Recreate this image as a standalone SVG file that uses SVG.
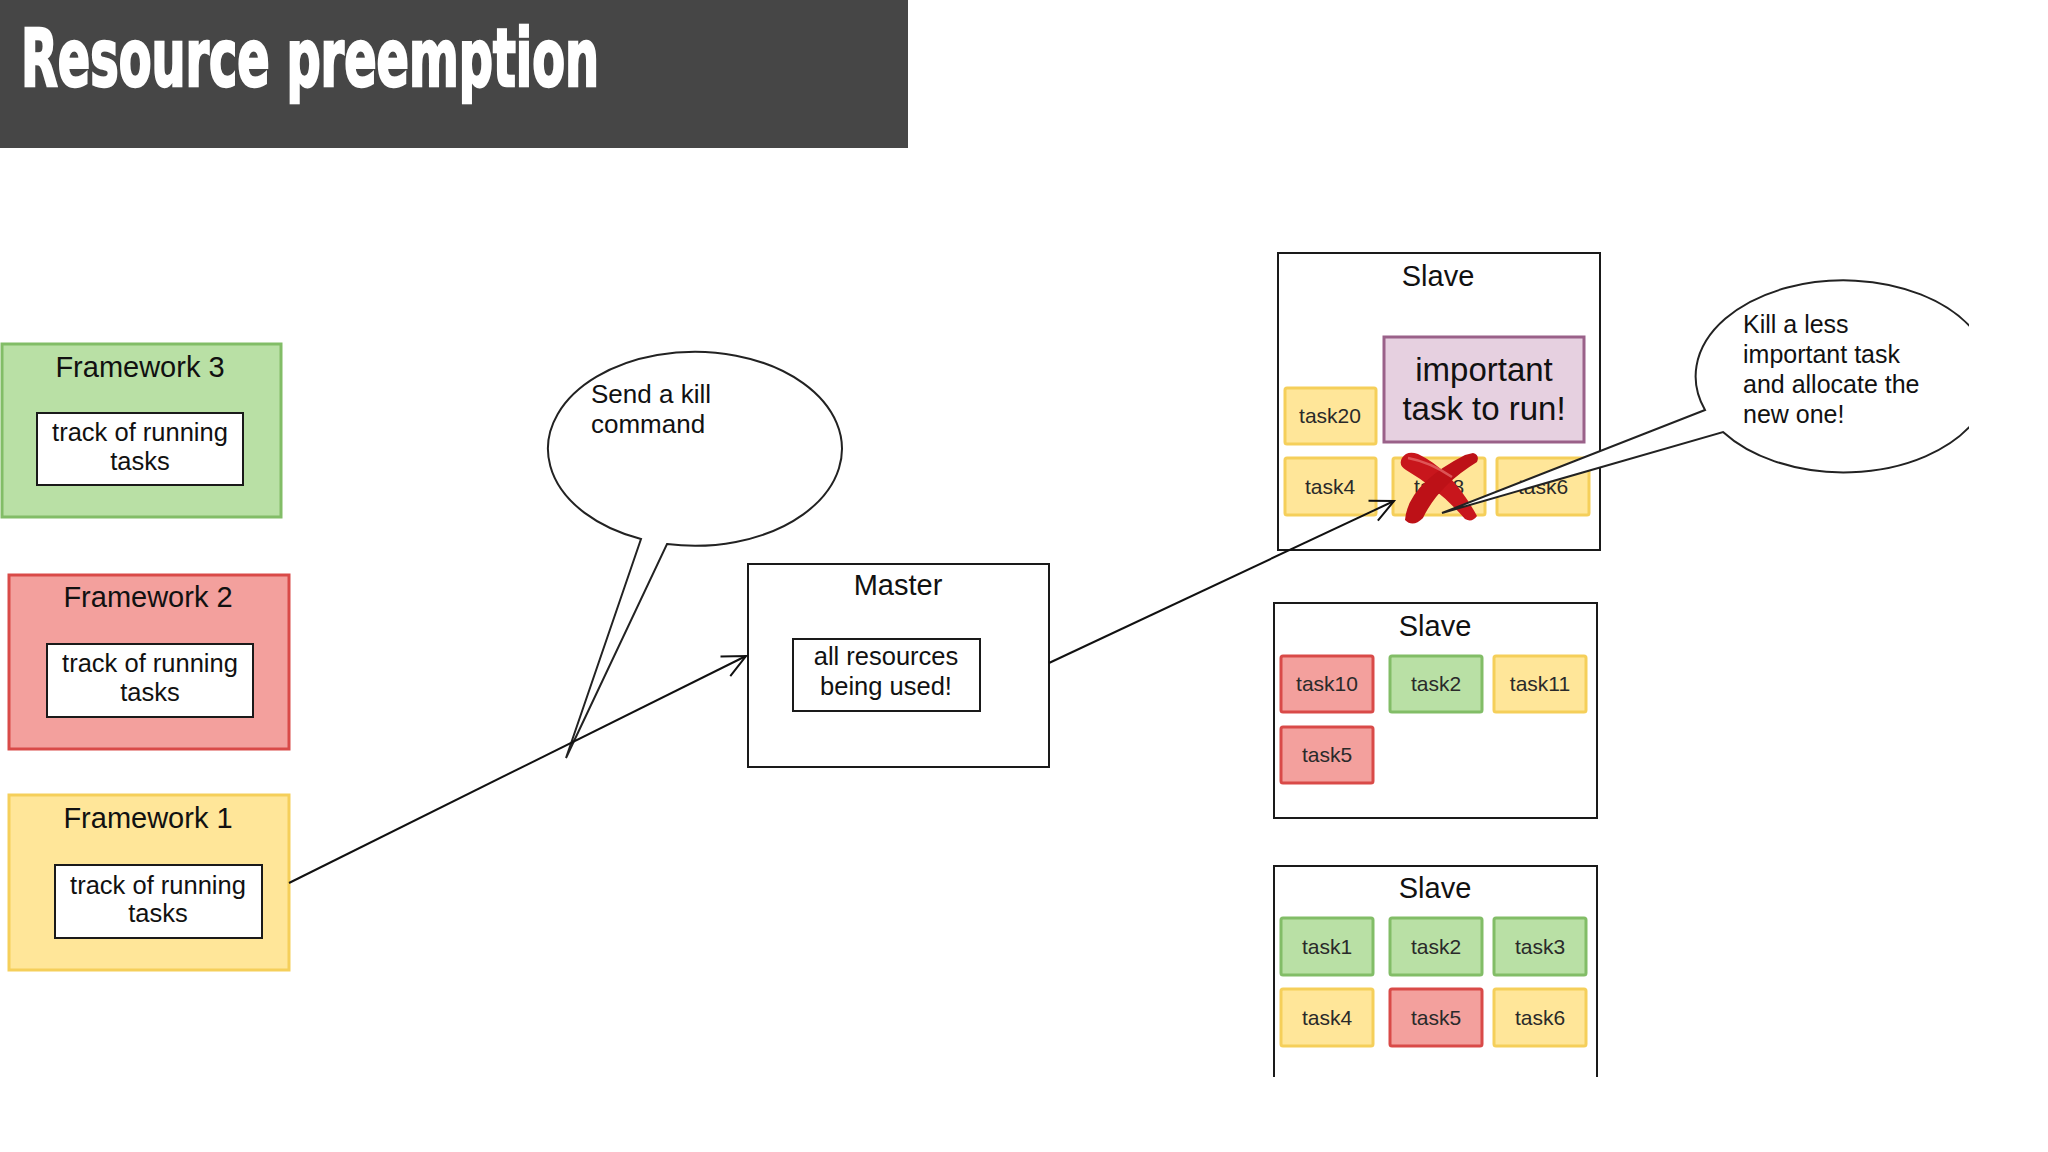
<svg xmlns="http://www.w3.org/2000/svg" width="2048" height="1152" viewBox="0 0 2048 1152">
<style>
.t{font-family:"Liberation Sans",Arial,sans-serif;fill:#111;text-anchor:middle}
.ttl{font-size:29px}
.lbl{font-size:25.5px}
.tk{font-size:21px;fill:#2a2a2a}
.plain{fill:#fff;stroke:#1a1a1a;stroke-width:2}
.g{fill:#b9e0a5;stroke:#82bd67;stroke-width:3}
.r{fill:#f3a09d;stroke:#d94a48;stroke-width:3}
.y{fill:#ffe699;stroke:#f5cf5a;stroke-width:3}
.conn{fill:none;stroke:#111;stroke-width:2}
.bub{fill:#fff;stroke:#222;stroke-width:2}
</style>
<defs>
<marker id="open" markerUnits="userSpaceOnUse" markerWidth="40" markerHeight="40" refX="0" refY="0" orient="auto" overflow="visible">
<path d="M -23 -11 L 0 0 L -23 11" fill="none" stroke="#111" stroke-width="2"/>
</marker>
<clipPath id="clipR"><rect x="0" y="0" width="1969" height="1152"/></clipPath>
</defs>
<rect width="2048" height="1152" fill="#fff"/>

<g id="title">
<rect x="0" y="0" width="908" height="148" fill="#464646"/>
<text x="21" y="86" font-family="'Liberation Sans Narrow','DejaVu Sans Condensed','Liberation Sans',sans-serif" font-weight="bold" font-size="80" fill="#fff" stroke="#fff" stroke-width="2.5" textLength="578" lengthAdjust="spacingAndGlyphs">Resource preemption</text>
</g>

<g id="framework3">
<rect class="g" x="2" y="344" width="279" height="173"/>
<text class="t ttl" x="140" y="377">Framework 3</text>
<rect class="plain" x="37" y="413" width="206" height="72"/>
<text class="t lbl" x="140" y="441">track of running</text>
<text class="t lbl" x="140" y="470">tasks</text>
</g>

<g id="framework2">
<rect class="r" x="9" y="575" width="280" height="174"/>
<text class="t ttl" x="148" y="607">Framework 2</text>
<rect class="plain" x="47" y="644" width="206" height="73"/>
<text class="t lbl" x="150" y="672">track of running</text>
<text class="t lbl" x="150" y="701">tasks</text>
</g>

<g id="framework1">
<rect class="y" x="9" y="795" width="280" height="175"/>
<text class="t ttl" x="148" y="828">Framework 1</text>
<rect class="plain" x="55" y="865" width="207" height="73"/>
<text class="t lbl" x="158" y="894">track of running</text>
<text class="t lbl" x="158" y="922">tasks</text>
</g>

<g id="bubble-kill">
<path class="bub" d="M 641 539 L 566 758 L 667 544 A 147 97 0 1 0 641 539 Z"/>
<text class="t" style="text-anchor:start;font-size:26px" x="591" y="403">Send a kill</text>
<text class="t" style="text-anchor:start;font-size:26px" x="591" y="433">command</text>
</g>

<g id="master">
<rect class="plain" x="748" y="564" width="301" height="203"/>
<text class="t ttl" x="898" y="595">Master</text>
<rect class="plain" x="793" y="639" width="187" height="72"/>
<text class="t lbl" x="886" y="665">all resources</text>
<text class="t lbl" x="886" y="695">being used!</text>
</g>

<g id="slave1">
<rect class="plain" x="1278" y="253" width="322" height="297"/>
<text class="t ttl" x="1438" y="286">Slave</text>
<rect x="1384" y="337" width="200" height="105" fill="#e6d0e0" stroke="#9a6189" stroke-width="3"/>
<text class="t" style="font-size:33px" x="1484" y="381">important</text>
<text class="t" style="font-size:33px" x="1484" y="420">task to run!</text>
<rect class="y" x="1285" y="388" width="91" height="56" rx="2"/>
<text class="t tk" x="1330" y="423">task20</text>
<rect class="y" x="1285" y="458" width="91" height="57" rx="2"/>
<text class="t tk" x="1330" y="494">task4</text>
<rect class="y" x="1393" y="458" width="92" height="57" rx="2"/>
<text class="t tk" x="1439" y="494">task8</text>
<rect class="y" x="1497" y="458" width="92" height="57" rx="2"/>
<text class="t tk" x="1543" y="494">task6</text>
</g>

<g id="kill-mark">
<path d="M 1402 458 Q 1407 450 1418 454 Q 1452 470 1477 516 Q 1472 523 1465 519 Q 1440 490 1406 470 Q 1398 465 1402 458 Z" fill="#c8161c"/>
<path d="M 1473 453 Q 1480 455 1477 462 Q 1438 486 1423 518 Q 1413 528 1405 520 Q 1408 484 1465 455 Z" fill="#bd1117"/>
<path d="M 1408 458 Q 1430 462 1452 477" fill="none" stroke="#e87070" stroke-width="2.5" opacity="0.7"/>
</g>

<g id="slave2">
<rect class="plain" x="1274" y="603" width="323" height="215"/>
<text class="t ttl" x="1435" y="636">Slave</text>
<rect class="r" x="1281" y="656" width="92" height="56" rx="2"/>
<text class="t tk" x="1327" y="691">task10</text>
<rect class="g" x="1390" y="656" width="92" height="56" rx="2"/>
<text class="t tk" x="1436" y="691">task2</text>
<rect class="y" x="1494" y="656" width="92" height="56" rx="2"/>
<text class="t tk" x="1540" y="691">task11</text>
<rect class="r" x="1281" y="727" width="92" height="56" rx="2"/>
<text class="t tk" x="1327" y="762">task5</text>
</g>

<g id="slave3">
<path class="plain" fill="#fff" d="M 1274 1077 V 866 H 1597 V 1077"/>
<text class="t ttl" x="1435" y="898">Slave</text>
<rect class="g" x="1281" y="918" width="92" height="57" rx="2"/>
<text class="t tk" x="1327" y="954">task1</text>
<rect class="g" x="1390" y="918" width="92" height="57" rx="2"/>
<text class="t tk" x="1436" y="954">task2</text>
<rect class="g" x="1494" y="918" width="92" height="57" rx="2"/>
<text class="t tk" x="1540" y="954">task3</text>
<rect class="y" x="1281" y="989" width="92" height="57" rx="2"/>
<text class="t tk" x="1327" y="1025">task4</text>
<rect class="r" x="1390" y="989" width="92" height="57" rx="2"/>
<text class="t tk" x="1436" y="1025">task5</text>
<rect class="y" x="1494" y="989" width="92" height="57" rx="2"/>
<text class="t tk" x="1540" y="1025">task6</text>
</g>

<g id="bubble-preempt" clip-path="url(#clipR)">
<path class="bub" d="M 1705 410 L 1442 513 L 1723 432 A 148 96 0 1 0 1705 410 Z"/>
<text class="t" style="text-anchor:start;font-size:25px" x="1743" y="333">Kill a less</text>
<text class="t" style="text-anchor:start;font-size:25px" x="1743" y="363">important task</text>
<text class="t" style="text-anchor:start;font-size:25px" x="1743" y="393">and allocate the</text>
<text class="t" style="text-anchor:start;font-size:25px" x="1743" y="423">new one!</text>
</g>

<g id="connectors">
<line class="conn" x1="289" y1="883" x2="746" y2="656" marker-end="url(#open)"/>
<line class="conn" x1="1049" y1="663" x2="1394" y2="501" marker-end="url(#open)"/>
</g>
</svg>
